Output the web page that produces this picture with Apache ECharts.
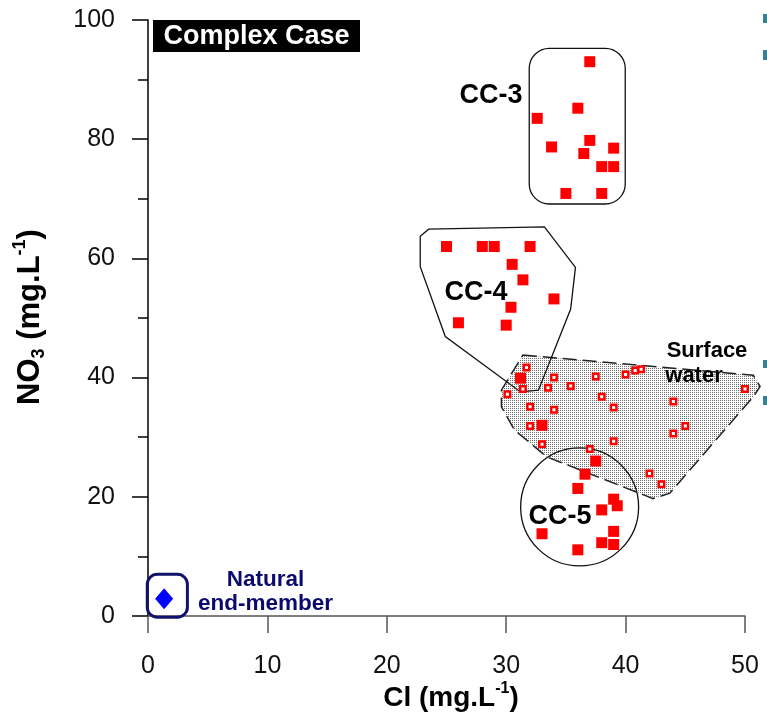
<!DOCTYPE html>
<html><head><meta charset="utf-8">
<script src="https://cdn.jsdelivr.net/npm/echarts@6/dist/echarts.min.js"></script>
<style>html,body{margin:0;padding:0;background:#fff}#c{width:767px;height:719px}</style>
</head><body><div id="c"></div>
<script>
// ---- data ----
const xTicks = [0, 10, 20, 30, 40, 50];
const yTicks = [0, 20, 40, 60, 80, 100];

const cc3Points = [[37.0,93.0],[36.0,85.2],[32.6,83.5],[37.0,79.8],[33.8,78.7],[39.0,78.5],[36.5,77.6],[38.0,75.4],[39.0,75.4],[35.0,70.9],[38.0,70.9]];
const cc4Points = [[25,62],[28,62],[29,62],[32,62],[30.5,59],[31.4,56.4],[34,53.2],[30.4,51.8],[26,49.2],[30,48.8]];
const ccOtherPoints = [[31.2,39.9],[33.0,32.0]];
const cc5Points = [[37.5,26.0],[36.6,23.8],[36.0,21.4],[39.0,19.6],[39.3,18.5],[38.0,17.8],[39.0,14.2],[33.0,13.8],[38.0,12.3],[39.0,12.0],[36.0,11.1]];
const surfacePoints = [[31.7,41.7],[34.0,40.0],[37.5,40.2],[40.0,40.5],[40.8,41.2],[41.3,41.4],[50.0,38.1],[30.1,37.2],[31.4,38.1],[33.5,38.3],[35.4,38.6],[38.0,36.8],[44.0,36.0],[32.0,35.1],[34.0,34.6],[39.0,35.0],[32.0,31.9],[45.0,31.9],[44.0,30.6],[33.0,28.8],[39.0,29.3],[37.0,28.0],[42.0,23.9],[43.0,22.1]];
const naturalPoints = [[1.35,2.9]];

// outlines of groups (data units)
const cc3Box = [[31.93,95.25],[39.97,69.13]];
const cc4Outline = [[23.5,64.9],[33.2,65.3],[35.8,58.5],[35.4,51.5],[32.7,37.9],[31.2,37.6],[24.9,46.9],[22.8,58.6],[22.8,63.7]];
const surfaceOutline = [[31.4,43.8],[50.7,40.4],[51.26,38.5],[50.7,36.8],[43.7,20.6],[42.3,19.7],[33.4,26.7],[30.7,31.2],[29.6,35.1],[29.6,37.9]];
const cc5Circle = {center:[36.15,18.3], radiusX:4.94};
const naturalBox = [[-0.06,7.0],[3.3,-0.2]];

// ---- chart ----
const FONT = '"Liberation Sans", Arial, sans-serif';
const pc = document.createElement('canvas');
pc.width = 2; pc.height = 2;
const pctx = pc.getContext('2d');
pctx.fillStyle = '#ffffff'; pctx.fillRect(0,0,2,2);
pctx.fillStyle = '#6a6a6a'; pctx.fillRect(0,0,1,1);

const mctx = document.createElement('canvas').getContext('2d');
// builds a group of text pieces laid out horizontally (for sub/superscripts)
function textRun(pieces, cx, cy, rotation) {
  let w = 0;
  const widths = pieces.map(p => { mctx.font = p.font; const m = mctx.measureText(p.t).width; w += m; return m; });
  let x = -w / 2;
  const children = pieces.map((p, i) => {
    const el = {type:'text', x:x, y:p.dy || 0, style:{text:p.t, font:p.font, fill:'#000', align:'left', verticalAlign:'middle'}};
    x += widths[i];
    return el;
  });
  return {type:'group', x:cx, y:cy, rotation:rotation || 0, z:100, children:children};
}

function shapeSeries(anchor, z, build) {
  return {type:'custom', coordinateSystem:'cartesian2d', data:[anchor], silent:true, z:z, clip:false,
    renderItem: function(params, api){ return build(api); }};
}

const chart = echarts.init(document.getElementById('c'), null, {renderer:'canvas'});
const option = {
  animation:false,
  backgroundColor:'#ffffff',
  grid:{left:148, right:22, top:20, bottom:103, containLabel:false},
  xAxis:{type:'value', min:xTicks[0], max:xTicks[xTicks.length-1], interval:10,
    axisLine:{show:true, onZero:false, lineStyle:{color:'#555', width:1.5}},
    axisTick:{show:true, length:17, lineStyle:{color:'#555', width:1.5}},
    axisLabel:{fontSize:25, color:'#111', margin:38, fontFamily:FONT},
    splitLine:{show:false}},
  yAxis:{type:'value', min:yTicks[0], max:yTicks[yTicks.length-1], interval:20,
    axisLine:{show:true, onZero:false, lineStyle:{color:'#000', width:1.5}},
    axisTick:{show:true, length:16, lineStyle:{color:'#000', width:1.5}},
    minorTick:{show:true, splitNumber:2, length:10, lineStyle:{color:'#000', width:1.5}},
    axisLabel:{fontSize:25, color:'#111', margin:33, fontFamily:FONT},
    splitLine:{show:false}},
  series:[
    shapeSeries(surfaceOutline[0], 1, function(api){
      return {type:'polygon', shape:{points:surfaceOutline.map(p=>api.coord(p))},
        style:{fill:{image:pc, repeat:'repeat'}, stroke:'#222', lineWidth:1.5, lineDash:[14,6]}};
    }),
    shapeSeries(cc4Outline[0], 2, function(api){
      return {type:'polygon', shape:{points:cc4Outline.map(p=>api.coord(p))},
        style:{fill:'none', stroke:'#111', lineWidth:1.3}};
    }),
    shapeSeries(cc3Box[0], 2, function(api){
      const a = api.coord(cc3Box[0]), b = api.coord(cc3Box[1]);
      return {type:'rect', shape:{x:a[0], y:a[1], width:b[0]-a[0], height:b[1]-a[1], r:20},
        style:{fill:'none', stroke:'#111', lineWidth:1.3}};
    }),
    shapeSeries(cc5Circle.center, 2, function(api){
      const c = api.coord(cc5Circle.center);
      const r = api.size([cc5Circle.radiusX, 0])[0];
      return {type:'circle', shape:{cx:c[0], cy:c[1], r:r},
        style:{fill:'none', stroke:'#111', lineWidth:1.3}};
    }),
    shapeSeries(naturalBox[0], 2, function(api){
      const a = api.coord(naturalBox[0]), b = api.coord(naturalBox[1]);
      return {type:'rect', shape:{x:a[0], y:a[1], width:b[0]-a[0], height:b[1]-a[1], r:10},
        style:{fill:'none', stroke:'#12126b', lineWidth:3}};
    }),
    {name:'Surface water', type:'scatter', z:5, data:surfacePoints, symbol:'rect', symbolSize:5.5,
      itemStyle:{color:'#ffffff', borderColor:'#ff0000', borderWidth:2.5, opacity:1}},
    {name:'CC-3', type:'scatter', z:6, data:cc3Points, symbol:'rect', symbolSize:11, itemStyle:{color:'#ff0000', opacity:1}},
    {name:'CC-4', type:'scatter', z:6, data:cc4Points, symbol:'rect', symbolSize:11, itemStyle:{color:'#ff0000', opacity:1}},
    {name:'CC', type:'scatter', z:6, data:ccOtherPoints, symbol:'rect', symbolSize:11, itemStyle:{color:'#ff0000', opacity:1}},
    {name:'CC-5', type:'scatter', z:6, data:cc5Points, symbol:'rect', symbolSize:11, itemStyle:{color:'#ff0000', opacity:1}},
    {name:'Natural end-member', type:'scatter', z:6, data:naturalPoints, symbol:'diamond', symbolSize:[18,21], itemStyle:{color:'#0000ff', opacity:1}}
  ],
  graphic:[
    {type:'rect', z:100, shape:{x:153, y:20, width:207, height:32}, style:{fill:'#000'}},
    {type:'text', z:101, x:256.5, y:37, style:{text:'Complex Case', fill:'#fff', font:'bold 27px '+FONT, align:'center', verticalAlign:'middle'}},
    {type:'text', z:100, x:491, y:96, style:{text:'CC-3', fill:'#000', font:'bold 27px '+FONT, align:'center', verticalAlign:'middle'}},
    {type:'text', z:100, x:476, y:293, style:{text:'CC-4', fill:'#000', font:'bold 27px '+FONT, align:'center', verticalAlign:'middle'}},
    {type:'text', z:100, x:560, y:517, style:{text:'CC-5', fill:'#000', font:'bold 27px '+FONT, align:'center', verticalAlign:'middle'}},
    {type:'text', z:100, x:707, y:351, style:{text:'Surface', fill:'#000', font:'bold 22px '+FONT, align:'center', verticalAlign:'middle'}},
    {type:'text', z:100, x:694, y:376, style:{text:'water', fill:'#000', font:'bold 22px '+FONT, align:'center', verticalAlign:'middle'}},
    {type:'text', z:100, x:265.5, y:580, style:{text:'Natural', fill:'#0b0b6e', font:'bold 22.5px '+FONT, align:'center', verticalAlign:'middle'}},
    {type:'text', z:100, x:265.5, y:604, style:{text:'end-member', fill:'#0b0b6e', font:'bold 22.5px '+FONT, align:'center', verticalAlign:'middle'}},
    textRun([{t:'Cl (mg.L', font:'bold 28px '+FONT}, {t:'-1', font:'bold 16px '+FONT, dy:-9}, {t:')', font:'bold 28px '+FONT}], 451, 698, 0),
    textRun([{t:'NO', font:'bold 31px '+FONT}, {t:'3', font:'bold 18px '+FONT, dy:9}, {t:' (mg.L', font:'bold 31px '+FONT}, {t:'-1', font:'bold 18px '+FONT, dy:-10}, {t:')', font:'bold 31px '+FONT}], 30, 317, Math.PI/2),
    {type:'rect', z:100, shape:{x:763, y:14, width:4, height:9}, style:{fill:'#3d7f8e'}},
    {type:'rect', z:100, shape:{x:763, y:50, width:4, height:10}, style:{fill:'#3d7f8e'}},
    {type:'rect', z:100, shape:{x:763, y:360, width:4, height:8}, style:{fill:'#3d7f8e'}},
    {type:'rect', z:100, shape:{x:763, y:396, width:4, height:9}, style:{fill:'#3d7f8e'}}
  ]
};
chart.setOption(option);
</script>
</body></html>
